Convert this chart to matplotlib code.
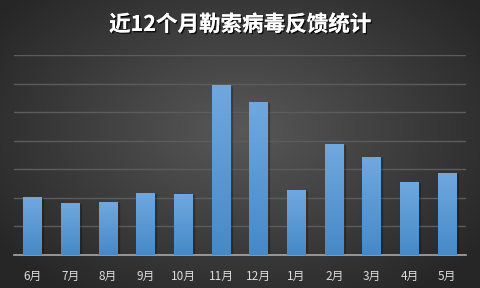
import numpy as np
import matplotlib
matplotlib.use("Agg")
import matplotlib.pyplot as plt
import matplotlib.patheffects as pe

plt.rcParams['font.family'] = ['Noto Sans CJK SC', 'DejaVu Sans']

months = ["6月", "7月", "8月", "9月", "10月", "11月", "12月", "1月", "2月", "3月", "4月", "5月"]
counts = [20.3, 18.2, 18.5, 21.7, 21.3, 59.2, 53.5, 22.7, 38.8, 34.3, 25.5, 28.7]
title = "近12个月勒索病毒反馈统计"

fig = plt.figure(figsize=(4.8, 2.88), dpi=100)

# radial gradient background
bg = fig.add_axes([0, 0, 1, 1])
yy, xx = np.mgrid[0:288, 0:480]
r = np.sqrt(((xx - 240) / 300.0) ** 2 + ((yy - 130) / 200.0) ** 2)
r = np.clip(r, 0, 1)
c0 = np.array([0x58, 0x58, 0x58]) / 255
c1 = np.array([0x26, 0x26, 0x26]) / 255
img = c0[None, None, :] * (1 - r[..., None]) + c1[None, None, :] * r[..., None]
bg.imshow(img, aspect='auto', extent=[0, 1, 0, 1])
bg.set_axis_off()

ax = fig.add_axes([0.029, 0.1146, 0.942, 0.694])
ax.patch.set_alpha(0)
x = np.arange(len(months))
bars = ax.bar(x, counts, width=0.5, color='none', zorder=3)

top = np.array([0x70, 0xa8, 0xde]) / 255
bot = np.array([0x46, 0x89, 0xc8]) / 255
t = np.linspace(0, 1, 100)[:, None]
grad = (top[None, :] * (1 - t) + bot[None, :] * t)[:, None, :]
for b in bars:
    x0, w, h = b.get_x(), b.get_width(), b.get_height()
    # soft shadow behind each bar
    ax.add_patch(plt.Rectangle((x0 + 0.03, 0), w, h - 0.3, color='black', alpha=0.18, zorder=2))
    ax.imshow(grad, extent=[x0, x0 + w, 0, h], aspect='auto', zorder=3)

ax.set_xlim(-0.5, len(months) - 0.5)
ax.set_ylim(0, 70)
ax.set_yticks(np.arange(10, 71, 10))
ax.yaxis.grid(True, color='#5c5c5c', linewidth=1)
ax.set_axisbelow(True)
for s in ['top', 'right', 'left']:
    ax.spines[s].set_visible(False)
ax.spines['bottom'].set_color('#a8a8a8')
ax.spines['bottom'].set_linewidth(1.2)
ax.tick_params(axis='y', left=False, labelleft=False)
ax.tick_params(axis='x', bottom=False, pad=7)
ax.set_xticks(x)
ax.set_xticklabels(months, fontsize=8.5, color='#dcdcdc')

fig.text(0.5, 0.915, title, ha='center', va='center', fontsize=15.5, fontweight='bold',
         color='white',
         path_effects=[pe.withSimplePatchShadow(offset=(1, -1), shadow_rgbFace='black', alpha=0.8), pe.Normal()])

fig.savefig("out.png", dpi=100)
